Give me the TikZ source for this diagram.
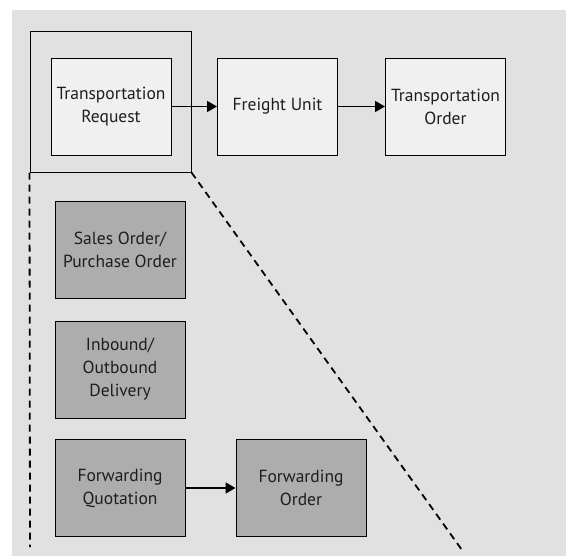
\documentclass[tikz,border=0pt]{standalone}
\usepackage{fontspec}
\setmainfont{PT Sans}
\usetikzlibrary{arrows.meta}
\definecolor{bggray}{HTML}{E1E1E1}
\definecolor{lightbox}{HTML}{F0F0F0}
\definecolor{darkbox}{HTML}{ADADAD}
\definecolor{txt}{HTML}{1E1E1E}
\begin{document}
\begin{tikzpicture}[x=1pt,y=-1pt,
  docbox/.style={draw=black, line width=1pt, align=center, text=txt,
    font=\fontsize{17.5}{23}\selectfont, inner sep=0pt},
  topbox/.style={docbox, fill=lightbox, minimum width=120pt, minimum height=97pt},
  subbox/.style={docbox, fill=darkbox, minimum width=130pt, minimum height=97pt},
  flow/.style={line width=1.8pt, -{Triangle[length=10pt,width=11pt]}},
  zoomline/.style={line width=1.8pt, dash pattern=on 7pt off 5pt}]
  % canvas
  \useasboundingbox (0,0) rectangle (566,558);
  \fill[white] (0,0) rectangle (566,558);
  \fill[bggray] (12,10) rectangle (566,556);

  % frame around the transportation request
  \node[draw=black, line width=1pt, minimum width=161pt, minimum height=141pt,
        inner sep=0pt] (frame) at (110.5,101.5) {};

  % main document flow
  \node[topbox] (tr) at (111,106.5) {Transportation\\Request};
  \node[topbox] (fu) at (277.5,106.5) {Freight Unit};
  \node[topbox] (to) at (445.5,106.5) {Transportation\\Order};
  \draw[flow] (tr) -- (fu);
  \draw[flow] (fu) -- (to);

  % zoom-out lines
  \coordinate (zl) at (30,547);
  \coordinate (zr) at (462,550);
  \draw[zoomline] (frame.south west) -- (zl);
  \draw[zoomline] (frame.south east) -- (zr);

  % source documents
  \node[subbox] (so) at (120,250) {Sales Order/\\Purchase Order};
  \node[subbox] (ib) at (120,369.5) {Inbound/\\Outbound\\Delivery};
  \node[subbox] (fq) at (120,488) {Forwarding\\Quotation};
  \node[subbox] (fo) at (301,488) {Forwarding\\Order};
  \draw[flow] (fq) -- (fo);
\end{tikzpicture}
\end{document}
